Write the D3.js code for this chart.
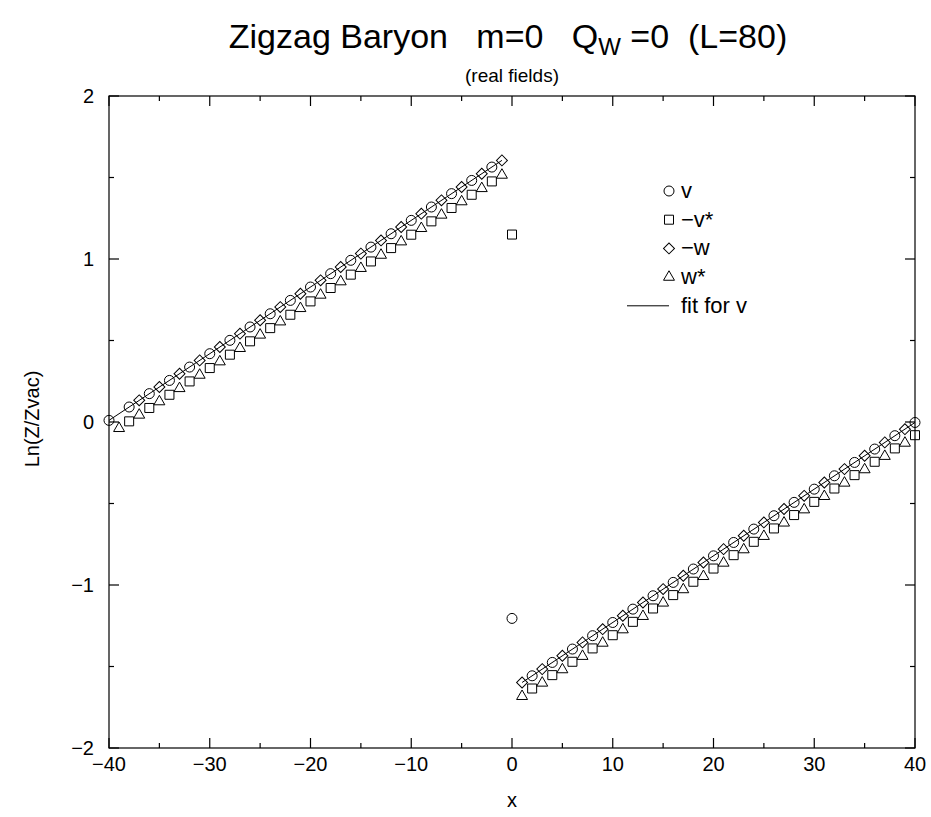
<!DOCTYPE html>
<html>
<head>
<meta charset="utf-8">
<script src="https://cdn.jsdelivr.net/npm/d3@7"></script>
<style>
  html, body { margin: 0; padding: 0; background: #fff; }
  svg { display: block; font-family: "Liberation Sans", Arial, Helvetica, sans-serif; }
</style>
</head>
<body>
<svg id="chart" width="931" height="817"></svg>
<script>
// Zigzag baryon profile: Ln(Z/Zvac) against site x, four field components + linear fit.

// v (circles): even sites
const vX = [-40, -38, -36, -34, -32, -30, -28, -26, -24, -22, -20, -18, -16, -14, -12, -10, -8, -6, -4, -2,
  0,
  2, 4, 6, 8, 10, 12, 14, 16, 18, 20, 22, 24, 26, 28, 30, 32, 34, 36, 38, 40];
const vY = [0.010, 0.092, 0.174, 0.255, 0.337, 0.419, 0.501, 0.583, 0.664, 0.746, 0.828, 0.910, 0.992, 1.073, 1.155, 1.237, 1.319, 1.401, 1.482, 1.564,
  -1.205,
  -1.557, -1.475, -1.393, -1.311, -1.230, -1.148, -1.066, -0.984, -0.902, -0.821, -0.739, -0.657, -0.575, -0.493, -0.412, -0.330, -0.248, -0.166, -0.084, -0.003];

// -v* (squares): even sites
const vsX = [-38, -36, -34, -32, -30, -28, -26, -24, -22, -20, -18, -16, -14, -12, -10, -8, -6, -4, -2,
  0,
  2, 4, 6, 8, 10, 12, 14, 16, 18, 20, 22, 24, 26, 28, 30, 32, 34, 36, 38, 40];
const vsY = [0.004, 0.086, 0.167, 0.249, 0.331, 0.413, 0.495, 0.576, 0.658, 0.740, 0.822, 0.904, 0.985, 1.067, 1.149, 1.231, 1.313, 1.394, 1.476,
  1.150,
  -1.635, -1.553, -1.471, -1.389, -1.308, -1.226, -1.144, -1.062, -0.980, -0.899, -0.817, -0.735, -0.653, -0.571, -0.490, -0.408, -0.326, -0.244, -0.162, -0.081];

// -w (diamonds): odd sites
const wX = [-37, -35, -33, -31, -29, -27, -25, -23, -21, -19, -17, -15, -13, -11, -9, -7, -5, -3, -1,
  1, 3, 5, 7, 9, 11, 13, 15, 17, 19, 21, 23, 25, 27, 29, 31, 33, 35, 37, 39];
const wY = [0.133, 0.215, 0.296, 0.378, 0.460, 0.542, 0.624, 0.705, 0.787, 0.869, 0.951, 1.033, 1.114, 1.196, 1.278, 1.360, 1.442, 1.523, 1.605,
  -1.598, -1.516, -1.434, -1.352, -1.271, -1.189, -1.107, -1.025, -0.943, -0.862, -0.780, -0.698, -0.616, -0.534, -0.453, -0.371, -0.289, -0.207, -0.125, -0.044];

// w* (triangles): odd sites
const wsX = [-39, -37, -35, -33, -31, -29, -27, -25, -23, -21, -19, -17, -15, -13, -11, -9, -7, -5, -3, -1,
  1, 3, 5, 7, 9, 11, 13, 15, 17, 19, 21, 23, 25, 27, 29, 31, 33, 35, 37, 39];
const wsY = [-0.039, 0.043, 0.125, 0.206, 0.288, 0.370, 0.452, 0.534, 0.615, 0.697, 0.779, 0.861, 0.943, 1.024, 1.106, 1.188, 1.270, 1.352, 1.433, 1.515,
  -1.683, -1.601, -1.519, -1.437, -1.356, -1.274, -1.192, -1.110, -1.028, -0.947, -0.865, -0.783, -0.701, -0.619, -0.538, -0.456, -0.374, -0.292, -0.210, -0.129];

// fit for v: two straight pieces
const fitLeftX = [-40, -1];
const fitLeftY = [0.010, 1.605];
const fitRightX = [1, 40];
const fitRightY = [-1.598, -0.003];

const xMajor = [-40, -30, -20, -10, 0, 10, 20, 30, 40];
const xMinor = [-35, -25, -15, -5, 5, 15, 25, 35];
const yMajor = [-2, -1, 0, 1, 2];
const yMinor = [-1.5, -0.5, 0.5, 1.5];

const legendLabels = ["v", "\u2212v*", "\u2212w", "w*", "fit for v"];

const M = { left: 109, right: 915, top: 96, bottom: 748 };
const MAJOR_TICK = 10;
const MINOR_TICK = 5;

const svg = d3.select("#chart");

const x = d3.scaleLinear().domain([-40, 40]).range([M.left, M.right]);
const y = d3.scaleLinear().domain([-2, 2]).range([M.bottom, M.top]);

const fmt = (d) => (d < 0 ? "\u2212" + Math.abs(d) : String(d));

// marker shapes
const circleSym = d3.symbol().type(d3.symbolCircle).size(Math.PI * 25)();
const squareSym = d3.symbol().type(d3.symbolSquare).size(81)();
const diamondSym = d3.symbol().type(d3.symbolSquare).size(60)();
const triangleSym = d3.symbol().type(d3.symbolTriangle).size(52)();

const series = [
  { xs: vX, ys: vY, path: circleSym, rot: 0 },
  { xs: vsX, ys: vsY, path: squareSym, rot: 0 },
  { xs: wX, ys: wY, path: diamondSym, rot: 45 },
  { xs: wsX, ys: wsY, path: triangleSym, rot: 0 }
];

// fit lines
const line = d3.line().x((d) => x(d[0])).y((d) => y(d[1]));
[[fitLeftX, fitLeftY], [fitRightX, fitRightY]].forEach(([xs, ys]) => {
  svg.append("path")
    .attr("d", line(xs.map((v, i) => [v, ys[i]])))
    .attr("fill", "none")
    .attr("stroke", "#000")
    .attr("stroke-width", 1);
});

// markers
series.forEach((s) => {
  svg.append("g").selectAll("path")
    .data(s.xs.map((v, i) => [v, s.ys[i]]))
    .join("path")
    .attr("d", s.path)
    .attr("transform", (d) => "translate(" + x(d[0]) + "," + y(d[1]) + ") rotate(" + s.rot + ")")
    .attr("fill", "none")
    .attr("stroke", "#000")
    .attr("stroke-width", 1);
});

// frame
const axisG = svg.append("g").attr("stroke", "#000").attr("stroke-width", 1.2);
axisG.append("rect")
  .attr("x", M.left).attr("y", M.top)
  .attr("width", M.right - M.left).attr("height", M.bottom - M.top)
  .attr("fill", "none");

// inward ticks on all four sides
const tickX = (vals, len) => {
  vals.forEach((v) => {
    axisG.append("line").attr("x1", x(v)).attr("x2", x(v)).attr("y1", M.bottom).attr("y2", M.bottom - len);
    axisG.append("line").attr("x1", x(v)).attr("x2", x(v)).attr("y1", M.top).attr("y2", M.top + len);
  });
};
const tickY = (vals, len) => {
  vals.forEach((v) => {
    axisG.append("line").attr("y1", y(v)).attr("y2", y(v)).attr("x1", M.left).attr("x2", M.left + len);
    axisG.append("line").attr("y1", y(v)).attr("y2", y(v)).attr("x1", M.right).attr("x2", M.right - len);
  });
};
tickX(xMajor, MAJOR_TICK);
tickX(xMinor, MINOR_TICK);
tickY(yMajor, MAJOR_TICK);
tickY(yMinor, MINOR_TICK);

// tick labels
svg.append("g").selectAll("text")
  .data(xMajor)
  .join("text")
  .attr("x", (d) => x(d))
  .attr("y", M.bottom + 23)
  .attr("text-anchor", "middle")
  .attr("font-size", 20)
  .text(fmt);

svg.append("g").selectAll("text")
  .data(yMajor)
  .join("text")
  .attr("x", M.left - 15)
  .attr("y", (d) => y(d) + 7)
  .attr("text-anchor", "end")
  .attr("font-size", 20)
  .text(fmt);

// axis titles
svg.append("text")
  .attr("x", x(0)).attr("y", 807)
  .attr("text-anchor", "middle")
  .attr("font-size", 20)
  .text("x");

svg.append("text")
  .attr("transform", "translate(39," + (y(0) - 3) + ") rotate(-90)")
  .attr("text-anchor", "middle")
  .attr("font-size", 20)
  .text("Ln(Z/Zvac)");

// title + subtitle
const title = svg.append("text")
  .attr("x", 508).attr("y", 48)
  .attr("text-anchor", "middle")
  .attr("font-size", 34)
  .attr("xml:space", "preserve");
title.append("tspan").text("Zigzag Baryon   m=0   Q");
title.append("tspan").attr("font-size", 24).attr("dy", 7).text("W");
title.append("tspan").attr("dy", -7).text(" =0  (L=80)");

svg.append("text")
  .attr("x", x(0)).attr("y", 82)
  .attr("text-anchor", "middle")
  .attr("font-size", 19)
  .text("(real fields)");

// legend
const LEG_X = 669, LEG_Y = 191, LEG_DY = 28.7;
const legG = svg.append("g");
series.forEach((s, i) => {
  legG.append("path")
    .attr("d", s.path)
    .attr("transform", "translate(" + LEG_X + "," + (LEG_Y + i * LEG_DY) + ") rotate(" + s.rot + ")")
    .attr("fill", "none")
    .attr("stroke", "#000")
    .attr("stroke-width", 1);
});
legG.append("line")
  .attr("x1", 627).attr("x2", 669)
  .attr("y1", LEG_Y + 4 * LEG_DY).attr("y2", LEG_Y + 4 * LEG_DY)
  .attr("stroke", "#000").attr("stroke-width", 1);
legendLabels.forEach((t, i) => {
  legG.append("text")
    .attr("x", 681)
    .attr("y", LEG_Y + i * LEG_DY + 7)
    .attr("font-size", 22)
    .text(t);
});
</script>
</body>
</html>
